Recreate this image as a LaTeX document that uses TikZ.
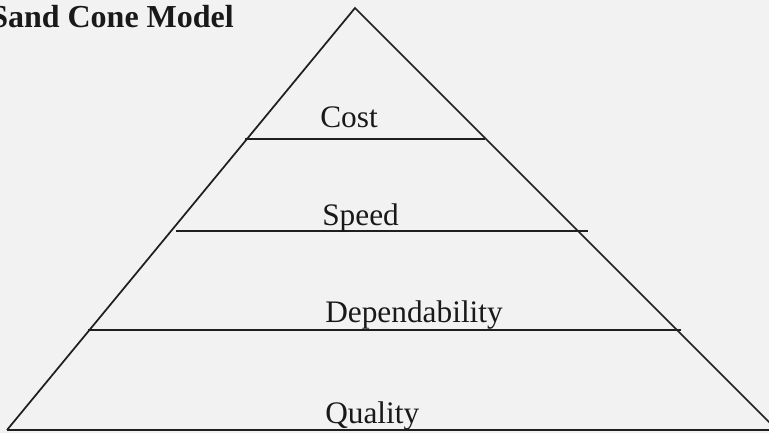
\documentclass[tikz,border=0pt]{standalone}
\usepackage{fontspec}
\setmainfont{Liberation Serif}
\begin{document}
\begin{tikzpicture}[x=0.75pt,y=-0.75pt,
  edge/.style={draw=black!88,line width=1.3pt},
  lbl/.style={anchor=base west,inner sep=0pt,text=black!90,font=\fontsize{23.5}{26}\selectfont},
  ttl/.style={anchor=base west,inner sep=0pt,text=black!90,font=\fontsize{24}{27}\selectfont\bfseries}]
\fill[black!5] (0,0) rectangle (769,433);
\useasboundingbox (0,0) rectangle (769,433);
\begin{scope}
\clip (0,0) rectangle (769,433);
\coordinate (apex) at (355,8);
\coordinate (bl) at (7,430);
\coordinate (br) at (777,430);
\coordinate (be) at (769,430);
\coordinate (cl) at (245,139);
\coordinate (cr) at (485,139);
\coordinate (sl) at (176,231);
\coordinate (sr) at (588,231);
\coordinate (dl) at (88,330);
\coordinate (dr) at (681,330);
\draw[edge] (bl) -- (apex) -- (br);
\draw[edge] (bl) -- (be);
\draw[edge] (cl) -- (cr);
\draw[edge] (sl) -- (sr);
\draw[edge] (dl) -- (dr);
\node[ttl] (title) at (-10,27) {Sand Cone Model};
\end{scope}
\node[lbl] (cost) at (320,127) {Cost};
\node[lbl] (speed) at (322,225) {Speed};
\node[lbl] (dep) at (325,322) {Dependability};
\node[lbl] (qual) at (325,423) {Quality};
\end{tikzpicture}
\end{document}
